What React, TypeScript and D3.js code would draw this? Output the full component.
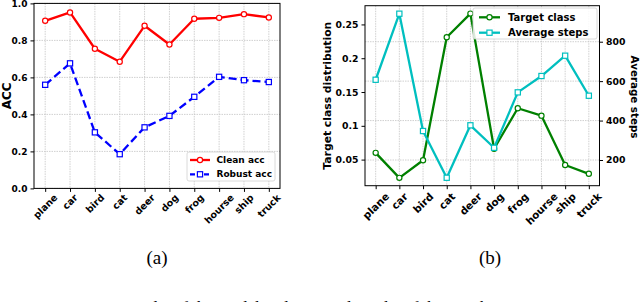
import React, { useEffect, useRef } from 'react';
import * as d3 from 'd3';

const categories = ['plane', 'car', 'bird', 'cat', 'deer', 'dog', 'frog', 'hourse', 'ship', 'truck'];
const cleanAcc = [0.906, 0.951, 0.755, 0.685, 0.879, 0.778, 0.917, 0.922, 0.942, 0.924];
const robustAcc = [0.56, 0.676, 0.303, 0.185, 0.33, 0.392, 0.495, 0.603, 0.585, 0.575];
const targetClass = [0.06, 0.023, 0.049, 0.231, 0.266, 0.066, 0.126, 0.115, 0.042, 0.029];
const avgSteps = [607, 942, 347, 110, 376, 262, 543, 626, 729, 526];
const accTicks = [0, 0.2, 0.4, 0.6, 0.8, 1.0];
const targetTicks = [0.05, 0.1, 0.15, 0.2, 0.25];
const stepTicks = [200, 400, 600, 800];

const FONT = 'DejaVu Sans';
const SERIF = '"Liberation Serif", "Times New Roman", serif';
const GRID = '#c4c4c4';

const App: React.FC = () => {
  const svgRef = useRef<SVGSVGElement>(null);

  useEffect(() => {
    if (!svgRef.current) return;
    const svg = d3.select(svgRef.current);
    svg.selectAll('*').remove();

    const idx = d3.range(categories.length);

    // rotated category labels, bbox centred under each tick
    const drawXLabels = (
      g: d3.Selection<SVGGElement, unknown, null, undefined>,
      x: d3.ScaleLinear<number, number>,
      bottom: number,
      fs: number,
      pad: number
    ) => {
      idx.forEach(i => {
        const t = g.append('text')
          .attr('font-family', FONT)
          .attr('font-weight', 'bold')
          .attr('font-size', fs)
          .attr('text-anchor', 'middle')
          .attr('dominant-baseline', 'central')
          .text(categories[i]);
        const w = (t.node() as SVGTextElement).getComputedTextLength();
        const h = (w + fs) * Math.SQRT1_2;
        t.attr('transform', `translate(${x(i)},${bottom + pad + h / 2}) rotate(-45)`);
      });
    };

    const marker = (
      g: d3.Selection<SVGGElement, unknown, null, undefined>,
      kind: 'circle' | 'square',
      cx: number,
      cy: number,
      color: string
    ) => {
      if (kind === 'circle') {
        g.append('circle').attr('cx', cx).attr('cy', cy).attr('r', 2.6)
          .attr('fill', 'white').attr('stroke', color).attr('stroke-width', 1.2);
      } else {
        g.append('rect').attr('x', cx - 2.6).attr('y', cy - 2.6).attr('width', 5.2).attr('height', 5.2)
          .attr('fill', 'white').attr('stroke', color).attr('stroke-width', 1.2);
      }
    };

    const series = (
      g: d3.Selection<SVGGElement, unknown, null, undefined>,
      values: number[],
      x: d3.ScaleLinear<number, number>,
      y: d3.ScaleLinear<number, number>,
      color: string,
      kind: 'circle' | 'square',
      dash?: string
    ) => {
      const line = d3.line<number>().x((_, i) => x(i)).y(d => y(d));
      g.append('path').attr('d', line(values) as string)
        .attr('fill', 'none').attr('stroke', color).attr('stroke-width', 2.3)
        .attr('stroke-linejoin', 'round')
        .attr('stroke-dasharray', dash ?? null);
      values.forEach((v, i) => marker(g, kind, x(i), y(v), color));
    };

    // ---------- chart (a) ----------
    const ax = d3.scaleLinear().domain([-0.45, categories.length - 1 + 0.45]).range([34, 280]);
    const ay = d3.scaleLinear().domain([0, 1]).range([188.4, 3.4]);
    const ga = svg.append('g');

    idx.forEach(i => {
      ga.append('line').attr('x1', ax(i)).attr('x2', ax(i)).attr('y1', ay(1)).attr('y2', ay(0))
        .attr('stroke', GRID).attr('stroke-width', 0.8).attr('stroke-dasharray', '1.5,1');
    });
    accTicks.forEach(t => {
      ga.append('line').attr('x1', ax.range()[0]).attr('x2', ax.range()[1]).attr('y1', ay(t)).attr('y2', ay(t))
        .attr('stroke', GRID).attr('stroke-width', 0.8).attr('stroke-dasharray', '1.5,1');
    });

    series(ga, cleanAcc, ax, ay, '#ff0000', 'circle');
    series(ga, robustAcc, ax, ay, '#0000ff', 'square', '8,4');

    ga.append('rect').attr('x', ax.range()[0]).attr('y', ay(1))
      .attr('width', ax.range()[1] - ax.range()[0]).attr('height', ay(0) - ay(1))
      .attr('fill', 'none').attr('stroke', 'black').attr('stroke-width', 1);

    const yAxisA = ga.append('g').attr('transform', `translate(${ax.range()[0]},0)`)
      .call(d3.axisLeft(ay).tickValues(accTicks).tickFormat(d3.format('.1f')).tickSize(3.5).tickPadding(3));
    const xAxisA = ga.append('g').attr('transform', `translate(0,${ay(0)})`)
      .call(d3.axisBottom(ax).tickValues(idx).tickFormat(() => '').tickSize(3.5));
    [yAxisA, xAxisA].forEach(a => {
      a.select('.domain').remove();
      a.selectAll('line').attr('stroke', 'black');
      a.selectAll('text').attr('font-family', FONT).attr('font-weight', 'bold').attr('font-size', 9).attr('fill', 'black');
    });
    drawXLabels(ga, ax, ay(0), 9.5, 4);

    ga.append('text')
      .attr('transform', `translate(11,${(ay(0) + ay(1)) / 2}) rotate(-90)`)
      .attr('text-anchor', 'middle')
      .attr('font-family', FONT).attr('font-weight', 'bold').attr('font-size', 12)
      .text('ACC');

    // legend (a)
    const la = ga.append('g');
    la.append('rect').attr('x', 187).attr('y', 152).attr('width', 88).attr('height', 29).attr('rx', 2)
      .attr('fill', 'white').attr('fill-opacity', 0.85).attr('stroke', '#d0d0d0').attr('stroke-width', 0.8);
    [
      { label: 'Clean acc', color: '#ff0000', kind: 'circle' as const, dash: null, y: 160 },
      { label: 'Robust acc', color: '#0000ff', kind: 'square' as const, dash: '5,2', y: 174.3 },
    ].forEach(e => {
      la.append('line').attr('x1', 190).attr('x2', 210).attr('y1', e.y).attr('y2', e.y)
        .attr('stroke', e.color).attr('stroke-width', 2.3).attr('stroke-dasharray', e.dash);
      marker(la, e.kind, 200, e.y, e.color);
      la.append('text').attr('x', 216.5).attr('y', e.y).attr('dominant-baseline', 'central')
        .attr('font-family', FONT).attr('font-weight', 'bold').attr('font-size', 9).text(e.label);
    });

    // ---------- chart (b) ----------
    const bx = d3.scaleLinear().domain([-0.45, categories.length - 1 + 0.45]).range([365, 599.5]);
    const byL = d3.scaleLinear().domain([0.0114, 0.2777]).range([185.7, 5.7]);
    const byR = d3.scaleLinear().domain([69.7, 982.6]).range([185.7, 5.7]);
    const gb = svg.append('g');

    idx.forEach(i => {
      gb.append('line').attr('x1', bx(i)).attr('x2', bx(i)).attr('y1', 5.7).attr('y2', 185.7)
        .attr('stroke', GRID).attr('stroke-width', 0.8).attr('stroke-dasharray', '1.5,1');
    });
    stepTicks.forEach(t => {
      gb.append('line').attr('x1', bx.range()[0]).attr('x2', bx.range()[1]).attr('y1', byR(t)).attr('y2', byR(t))
        .attr('stroke', GRID).attr('stroke-width', 0.8).attr('stroke-dasharray', '1.5,1');
    });

    series(gb, targetClass, bx, byL, '#008000', 'circle');
    series(gb, avgSteps, bx, byR, '#00bfbf', 'square');

    gb.append('rect').attr('x', bx.range()[0]).attr('y', 5.7)
      .attr('width', bx.range()[1] - bx.range()[0]).attr('height', 180)
      .attr('fill', 'none').attr('stroke', 'black').attr('stroke-width', 1);

    const yLB = gb.append('g').attr('transform', `translate(${bx.range()[0]},0)`)
      .call(d3.axisLeft(byL).tickValues(targetTicks).tickFormat(d => String(+d)).tickSize(3.5).tickPadding(3));
    const yRB = gb.append('g').attr('transform', `translate(${bx.range()[1]},0)`)
      .call(d3.axisRight(byR).tickValues(stepTicks).tickFormat(d3.format('d')).tickSize(3.5).tickPadding(3));
    const xB = gb.append('g').attr('transform', `translate(0,185.7)`)
      .call(d3.axisBottom(bx).tickValues(idx).tickFormat(() => '').tickSize(3.5));
    [yLB, yRB, xB].forEach(a => {
      a.select('.domain').remove();
      a.selectAll('line').attr('stroke', 'black');
      a.selectAll('text').attr('font-family', FONT).attr('font-weight', 'bold').attr('font-size', 9.3).attr('fill', 'black');
    });
    drawXLabels(gb, bx, 185.7, 10.3, 5);

    gb.append('text')
      .attr('transform', `translate(331,95.7) rotate(-90)`)
      .attr('text-anchor', 'middle')
      .attr('font-family', FONT).attr('font-weight', 'bold').attr('font-size', 10.8)
      .text('Target class distribution');
    gb.append('text')
      .attr('transform', `translate(630.5,97) rotate(90)`)
      .attr('text-anchor', 'middle')
      .attr('font-family', FONT).attr('font-weight', 'bold').attr('font-size', 10.3)
      .text('Average steps');

    // legend (b)
    const lb = gb.append('g');
    lb.append('rect').attr('x', 473).attr('y', 8).attr('width', 124).attr('height', 31).attr('rx', 2)
      .attr('fill', 'white').attr('fill-opacity', 0.85).attr('stroke', '#d0d0d0').attr('stroke-width', 0.8);
    [
      { label: 'Target class', color: '#008000', kind: 'circle' as const, y: 17.3 },
      { label: 'Average steps', color: '#00bfbf', kind: 'square' as const, y: 32.7 },
    ].forEach(e => {
      lb.append('line').attr('x1', 479).attr('x2', 500).attr('y1', e.y).attr('y2', e.y)
        .attr('stroke', e.color).attr('stroke-width', 2.3);
      marker(lb, e.kind, 489.5, e.y, e.color);
      lb.append('text').attr('x', 508).attr('y', e.y).attr('dominant-baseline', 'central')
        .attr('font-family', FONT).attr('font-weight', 'bold').attr('font-size', 10).text(e.label);
    });

    // captions
    svg.append('text').attr('x', 157).attr('y', 264).attr('text-anchor', 'middle')
      .attr('font-family', SERIF).attr('font-size', 19).text('(a)');
    svg.append('text').attr('x', 490).attr('y', 264).attr('text-anchor', 'middle')
      .attr('font-family', SERIF).attr('font-size', 19).text('(b)');
    // figure caption, only its top edge shows in the crop
    svg.append('text').attr('x', 0).attr('y', 312.5)
      .attr('font-family', SERIF).attr('font-size', 17)
      .text('Figure 6: Statistic results of the model and Targeted results of the attack.');
  }, []);

  return (
    <svg
      ref={svgRef}
      width={640}
      height={302}
      style={{ position: 'absolute', left: 0, top: 0, background: 'white', display: 'block' }}
    />
  );
};

export default App;
